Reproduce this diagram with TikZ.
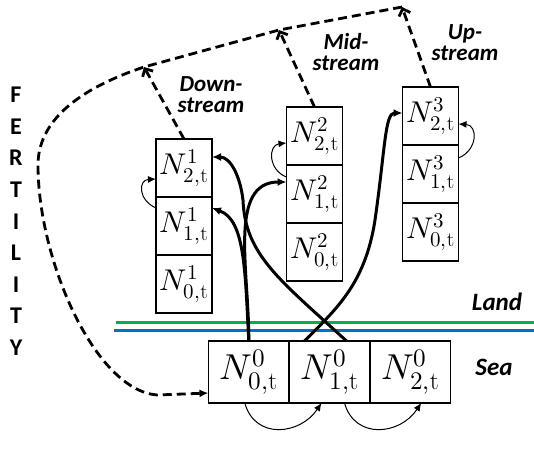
\documentclass[tikz,border=0pt]{standalone}
\usepackage{fontspec}
\usepackage{unicode-math}
\setsansfont{Carlito}
\usetikzlibrary{arrows.meta, positioning}

\definecolor{landgreen}{RGB}{0,176,80}
\definecolor{seablue}{RGB}{0,112,192}

\tikzset{
  cell/.style={draw, line width=1.4pt, minimum width=56pt, minimum height=58pt, inner sep=0pt, outer sep=0pt, font=\fontsize{30}{31}\selectfont},
  seacell/.style={cell, minimum width=80.7pt, minimum height=62pt, font=\fontsize{36}{38}\selectfont},
  flow/.style={line width=3pt, -{Latex[length=9pt,width=8pt]}},
  stay/.style={line width=1pt, -{Latex[length=8pt,width=7pt]}},
  fert/.style={line width=2.8pt, dash pattern=on 9pt off 5pt, -{Straight Barb[length=6pt,width=12pt]}},
  fertback/.style={line width=2.8pt, dash pattern=on 9pt off 5pt, -{Latex[length=9pt,width=8pt]}},
  place/.style={font=\sffamily\bfseries\itshape\fontsize{23}{21}\selectfont, align=center},
  zone/.style={font=\sffamily\bfseries\itshape\fontsize{25}{26}\selectfont},
  side/.style={font=\sffamily\bfseries\fontsize{24}{25}\selectfont}
}

\begin{document}
\begin{tikzpicture}[x=1pt, y=-1pt]
\useasboundingbox (0,0) rectangle (534,456);

% Land columns
\node[cell] (d2) at (184,168) {$N^{1}_{2,\mathrm{t}}$};
\node[cell, below=0pt of d2] (d1) {$N^{1}_{1,\mathrm{t}}$};
\node[cell, below=0pt of d1] (d0) {$N^{1}_{0,\mathrm{t}}$};

\node[cell] (m2) at (314.5,136) {$N^{2}_{2,\mathrm{t}}$};
\node[cell, below=0pt of m2] (m1) {$N^{2}_{1,\mathrm{t}}$};
\node[cell, below=0pt of m1] (m0) {$N^{2}_{0,\mathrm{t}}$};

\node[cell] (u2) at (430.5,116) {$N^{3}_{2,\mathrm{t}}$};
\node[cell, below=0pt of u2] (u1) {$N^{3}_{1,\mathrm{t}}$};
\node[cell, below=0pt of u1] (u0) {$N^{3}_{0,\mathrm{t}}$};

% Sea row
\node[seacell] (s0) at (248.8,372) {$N^{0}_{0,\mathrm{t}}$};
\node[seacell, right=0pt of s0] (s1) {$N^{0}_{1,\mathrm{t}}$};
\node[seacell, right=0pt of s1] (s2) {$N^{0}_{2,\mathrm{t}}$};

% Shoreline
\draw[landgreen, line width=3pt] (116,322.7) -- (534,322.7);
\draw[seablue, line width=3pt] (114,330) -- (534,330);

% Labels
\node[place] (down) at (211,95) {Down-\\stream};
\node[place] (mid) at (346,52) {Mid-\\stream};
\node[place] (up) at (465,43) {Up-\\stream};
\node[zone] (land) at (497,302) {Land};
\node[zone] (sea) at (494,367) {Sea};

\foreach \l [count=\i from 0] in {F,E,R,T,I,L,I,T,Y}
  \node[side] (f\i) at (16,95+31.6*\i) {\l};

% Fertility back to the sea
\coordinate (fd) at (144,67);
\coordinate (fm) at (279,30);
\coordinate (fu) at (402,7);
\draw[fert] (d2.north) -- (fd);
\draw[fert] (m2.north) -- (fm);
\draw[fert] (u2.north) -- (fu);
\draw[fertback] (fu) -- (fm) -- (fd) .. controls (90,85) and (38,115) .. (38,165)
  .. controls (38,260) and (95,390) .. (157,395) -- ([yshift=-21pt]s0.west);

% Moving up the river
\draw[flow] ([xshift=17pt]s1.north) .. controls (280,280) and (245,255) .. (243,200)
  .. controls (240,175) and (230,157) .. ([yshift=11pt]d2.east);
\draw[flow] (s0.north) .. controls (245,270) and (245,220) .. ([yshift=18pt]d1.east);
\draw[flow] (s0.north) .. controls (249,270) and (228,182) .. ([yshift=12pt]m1.west);
\draw[flow] ([xshift=-25pt]s1.north) .. controls (335,310) and (365,285) .. (375,220)
  .. controls (385,150) and (385,113) .. ([yshift=3pt]u2.west);

% Ageing in place
\draw[stay] ([yshift=18pt]d1.west) .. controls (138,200) and (138,180) .. ([yshift=-11pt]d2.west);
\draw[stay] ([yshift=17pt]m1.west) .. controls (268,170) and (268,145) .. ([yshift=-7pt]m2.west);
\draw[stay] ([yshift=16pt]u1.east) .. controls (478,150) and (478,125) .. ([yshift=-8pt]u2.east);
\draw[stay] ([xshift=-4pt]s0.south) .. controls (255,440) and (300,435) .. ([xshift=-8pt]s1.south);
\draw[stay] ([xshift=15pt]s1.south) .. controls (355,440) and (400,435) .. ([xshift=11pt]s2.south);
\end{tikzpicture}
\end{document}
